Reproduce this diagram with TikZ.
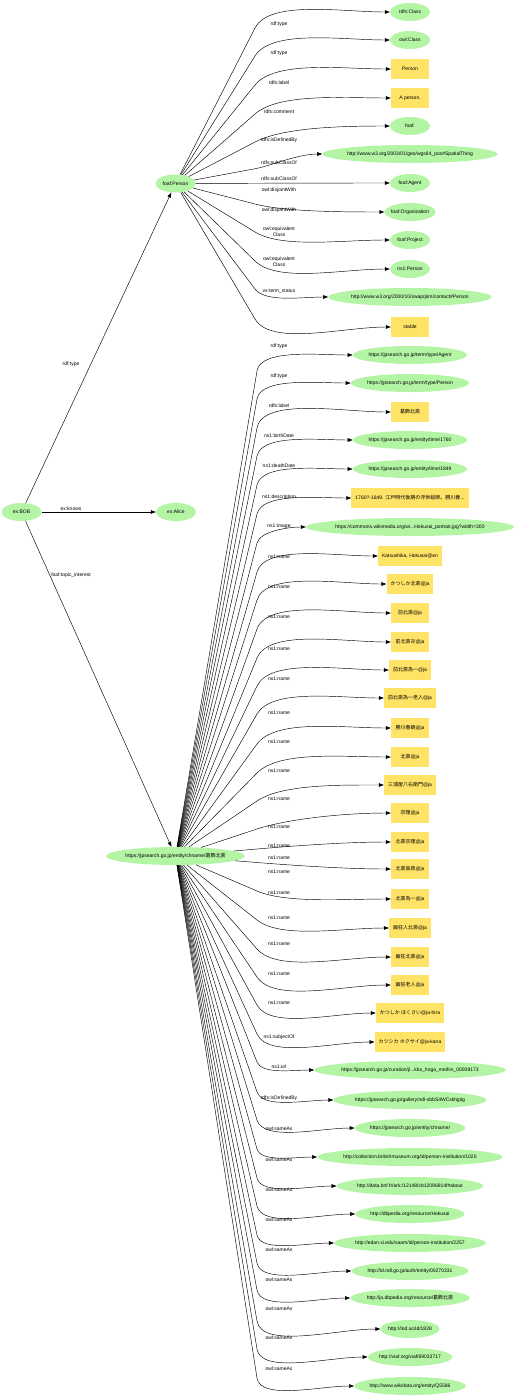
\documentclass[tikz,border=0pt]{standalone}
\usepackage{fontspec}
\setmainfont{Liberation Sans}
\newfontfamily\cjk{Noto Sans CJK JP}
\usetikzlibrary{shapes.geometric,arrows.meta,calc}

\definecolor{resgreen}{RGB}{180,245,165}
\definecolor{litgold}{RGB}{255,227,102}
\newcommand\gvfont{\fontsize{5}{6}\selectfont}

\tikzset{
  res/.style={ellipse, fill=resgreen, minimum width=40, minimum height=18,
    inner xsep=-1pt, inner ysep=0pt, font=\gvfont},
  lit/.style={rectangle, fill=litgold, minimum width=38, minimum height=20,
    inner xsep=4pt, font=\gvfont},
  edge/.style={-{Triangle[length=5pt,width=3.6pt]}, line width=.45pt,
    out looseness=.6, in looseness=.9},
  lbl/.style={font=\gvfont, inner sep=0pt, align=center},
}

% edge #1 -> #2, bending near x=#3, label #4 at height #5
\newcommand\rdfedge[5]{%
  \draw[edge] let \p1=(#1.center), \p2=(#2.west),
      \n1={ifthenelse(\y2>\y1,min(16pt,abs(\y2-\y1)/2),-min(8pt,abs(\y2-\y1)/2))},
      \p3=({#3pt},{\y2-(\n1)}),
      \n2={atan2(\y3-\y1,\x3-\x1)} in
    (#1) -- (\p3) to[out=\n2,in=180] (#2)
    node[lbl] at (279,#5) {#4};
}

\begin{document}
\begin{tikzpicture}[x=1pt,y=-1pt]
\fill[white] (0,0) rectangle (514,1400);
\useasboundingbox (0,0) rectangle (514,1400);

% subjects
\node[res] (bob) at (21.5,512) {ex:BOB};
\node[res] (alice) at (176,512) {ex:Alice};
\node[res] (person) at (175.5,183.5) {foaf:Person};
\node[res] (chname) at (175.5,856) {https://jpsearch.go.jp/entity/chname/{\cjk 葛飾北斎}};

% ex:BOB
\draw[edge] (bob) -- (person) node[lbl] at (71,364) {rdf:type};
\draw[edge] (bob) -- (alice) node[lbl] at (71,509) {ex:knows};
\draw[edge] (bob) -- (chname) node[lbl] at (71,575) {foaf:topic\_interest};

% foaf:Person
\node[res] (pcls) at (410,12) {rdfs:Class};
\node[res] (powl) at (410,40) {owl:Class};
\node[lit] (plab) at (410,69) {Person};
\node[lit] (pcom) at (410,98) {A person.};
\node[res] (pdef) at (410,126) {foaf:};
\node[res] (pgeo) at (410,154) {http://www.w3.org/2003/01/geo/wgs84\_pos\#SpatialThing};
\node[res] (pagt) at (410,183) {foaf:Agent};
\node[res] (porg) at (410,212) {foaf:Organization};
\node[res] (ppro) at (410,240) {foaf:Project};
\node[res] (psdo) at (410,269) {ns1:Person};
\node[res] (pcon) at (410,297) {http://www.w3.org/2000/10/swap/pim/contact\#Person};
\node[lit] (psta) at (410,327) {stable};

\rdfedge{person}{pcls}{255}{rdf:type}{24}
\rdfedge{person}{powl}{255}{rdf:type}{53}
\rdfedge{person}{plab}{255}{rdfs:label}{83}
\rdfedge{person}{pcom}{255}{rdfs:comment}{112}
\rdfedge{person}{pdef}{255}{rdfs:isDefinedBy}{140}
\rdfedge{person}{pgeo}{255}{rdfs:subClassOf}{163}
\rdfedge{person}{pagt}{255}{rdfs:subClassOf}{179}
\rdfedge{person}{porg}{255}{owl:disjointWith}{190}
\rdfedge{person}{ppro}{255}{owl:disjointWith}{210}
\rdfedge{person}{psdo}{255}{owl:equivalent\\Class}{232}
\rdfedge{person}{pcon}{255}{owl:equivalent\\Class}{262}
\rdfedge{person}{psta}{255}{vs:term\_status}{291}

% chname
\node[res] (jagt) at (410,355) {https://jpsearch.go.jp/term/type/Agent};
\node[res] (jper) at (410,383) {https://jpsearch.go.jp/term/type/Person};
\node[lit] (jlab) at (410,412) {{\cjk 葛飾北斎}};
\node[res] (jbir) at (410,440) {https://jpsearch.go.jp/entity/time/1760};
\node[res] (jdea) at (410,469) {https://jpsearch.go.jp/entity/time/1849};
\node[lit] (jdes) at (410,498) {1760?-1849. {\cjk 江戸時代後期の浮世絵師。勝川春}...};
\node[res] (jimg) at (410,527) {https://commons.wikimedia.org/wi...Hokusai\_portrait.jpg?width=300};

% names
\node[lit] (nm1) at (410,556) {Katsushika, Hokusai@en};
\node[lit] (nm2) at (410,584) {{\cjk かつしか北斎}@ja};
\node[lit] (nm3) at (410,613) {{\cjk 前北斎}@ja};
\node[lit] (nm4) at (410,642) {{\cjk 前北斎卍}@ja};
\node[lit] (nm5) at (410,670) {{\cjk 前北斎為一}@ja};
\node[lit] (nm6) at (410,698) {{\cjk 前北斎為一老人}@ja};
\node[lit] (nm7) at (410,728) {{\cjk 勝川春朗}@ja};
\node[lit] (nm8) at (410,757) {{\cjk 北斎}@ja};
\node[lit] (nm9) at (410,785) {{\cjk 三浦屋八右衛門}@ja};
\node[lit] (nm10) at (410,813) {{\cjk 宗理}@ja};
\node[lit] (nm11) at (410,842) {{\cjk 北斎宗理}@ja};
\node[lit] (nm12) at (410,869) {{\cjk 北斎辰政}@ja};
\node[lit] (nm13) at (410,899) {{\cjk 北斎為一}@ja};
\node[lit] (nm14) at (410,928) {{\cjk 画狂人北斎}@ja};
\node[lit] (nm15) at (410,957) {{\cjk 画狂北斎}@ja};
\node[lit] (nm16) at (410,985) {{\cjk 画狂老人}@ja};
\node[lit] (nm17) at (410,1013) {{\cjk かつしか ほくさい}@ja-hira};
\node[lit] (nm18) at (410,1042) {{\cjk カツシカ ホクサイ}@ja-kana};

\node[res] (jsub) at (410,1070) {https://jpsearch.go.jp/curation/jl...kka\_hoga\_meihin\_00008173};
\node[res] (jurl) at (410,1100) {https://jpsearch.go.jp/gallery/ndl-sbbS4WCskhjplg};
\node[res] (jdef) at (410,1128) {https://jpsearch.go.jp/entity/chname/};

% owl:sameAs
\node[res] (sa1) at (410,1157) {http://collection.britishmuseum.org/id/person-institution/1020};
\node[res] (sa2) at (410,1186) {http://data.bnf.fr/ark:/12148/cb12096814f\#about};
\node[res] (sa3) at (410,1214) {http://dbpedia.org/resource/Hokusai};
\node[res] (sa4) at (410,1243) {http://edan.si.edu/saam/id/person-institution/2257};
\node[res] (sa5) at (410,1271) {http://id.ndl.go.jp/auth/entity/00270331};
\node[res] (sa6) at (410,1298) {http://ja.dbpedia.org/resource/{\cjk 葛飾北斎}};
\node[res] (sa7) at (410,1329) {http://lod.ac/id/1828};
\node[res] (sa8) at (410,1357) {http://viaf.org/viaf/69033717};
\node[res] (sa9) at (410,1386) {http://www.wikidata.org/entity/Q5586};

\rdfedge{chname}{jagt}{257}{rdf:type}{346}
\rdfedge{chname}{jper}{257}{rdf:type}{376}
\rdfedge{chname}{jlab}{257}{rdfs:label}{406}
\rdfedge{chname}{jbir}{257}{ns1:birthDate}{436}
\rdfedge{chname}{jdea}{257}{ns1:deathDate}{466}
\rdfedge{chname}{jdes}{257}{ns1:description}{497}
\rdfedge{chname}{jimg}{257}{ns1:image}{526}
\foreach \i/\ly in {1/557,2/587,3/617,4/649,5/679,6/713,7/742,8/771,9/799,
    10/827,11/846,12/858,13/872,14/893,15/918,16/944,17/974,18/1003}
  {\rdfedge{chname}{nm\i}{257}{ns1:name}{\ly}}
\rdfedge{chname}{jsub}{257}{ns1:subjectOf}{1037}
\rdfedge{chname}{jurl}{257}{ns1:url}{1067}
\rdfedge{chname}{jdef}{257}{rdfs:isDefinedBy}{1098}
\foreach \i/\ly in {1/1129,2/1160,3/1190,4/1220,5/1250,6/1280,7/1309,8/1338,9/1369}
  {\rdfedge{chname}{sa\i}{257}{owl:sameAs}{\ly}}
\end{tikzpicture}
\end{document}
